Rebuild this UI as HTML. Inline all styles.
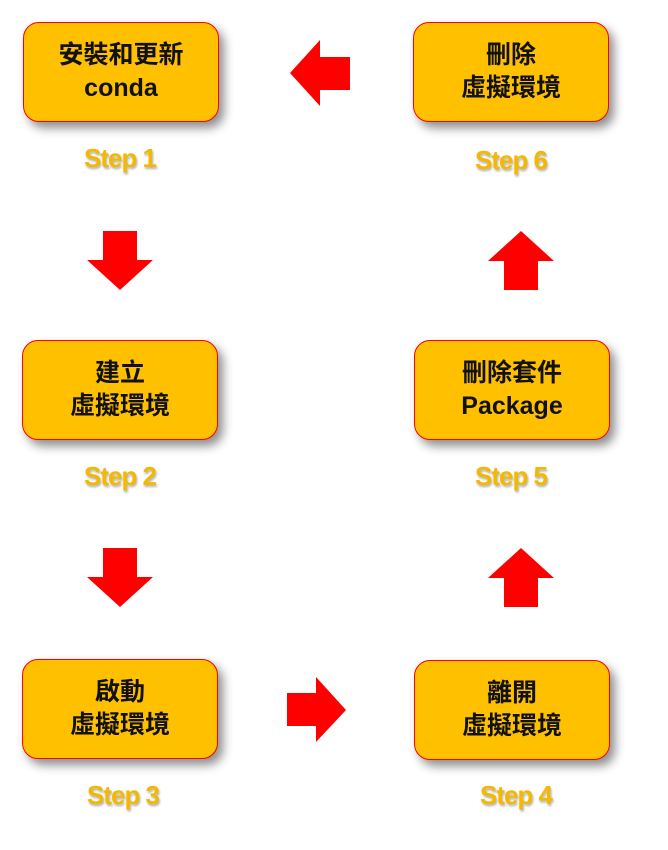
<!DOCTYPE html>
<html><head><meta charset="utf-8"><style>
body{margin:0;width:668px;height:850px;background:#fff;position:relative;overflow:hidden;font-family:"Liberation Sans","Noto Sans CJK TC",sans-serif}
.b{position:absolute;width:196px;height:100px;background:#ffc000;border:1.5px solid #f00;border-radius:16px;box-shadow:5px 6px 10px rgba(0,0,0,.45);display:flex;align-items:center;justify-content:center;text-align:center;font-size:25px;font-weight:bold;line-height:33px;color:#111;box-sizing:border-box}
.s{position:absolute;width:196px;text-align:center;font-size:26px;font-weight:bold;color:#f5b800;text-shadow:1px 2px 2px rgba(0,0,0,.3);letter-spacing:-1px}
svg{position:absolute;left:0;top:0}
</style></head><body>
<div class="b" style="left:23px;top:22px">安裝和更新<br>conda</div>
<div class="b" style="left:413px;top:22px">刪除<br>虛擬環境</div>
<div class="b" style="left:22px;top:340px">建立<br>虛擬環境</div>
<div class="b" style="left:414px;top:340px">刪除套件<br>Package</div>
<div class="b" style="left:22px;top:659px">啟動<br>虛擬環境</div>
<div class="b" style="left:414px;top:660px">離開<br>虛擬環境</div>
<div class="s" style="left:22px;top:143px">Step 1</div>
<div class="s" style="left:413px;top:145px">Step 6</div>
<div class="s" style="left:22px;top:461px">Step 2</div>
<div class="s" style="left:413px;top:461px">Step 5</div>
<div class="s" style="left:25px;top:780px">Step 3</div>
<div class="s" style="left:418px;top:780px">Step 4</div>
<svg width="668" height="850" fill="#f00">
<polygon points="350,57 320,57 320,40 290,73 320,106 320,90 350,90"/>
<polygon points="103,231 137,231 137,260 153,260 120,290 87,260 103,260"/>
<polygon points="103,548 137,548 137,577 153,577 120,607 87,577 103,577"/>
<polygon points="287,693 316,693 316,677 346,710 316,742 316,726 287,726"/>
<polygon points="504,290 538,290 538,261 554,261 521,231 488,261 504,261"/>
<polygon points="504,607 538,607 538,578 554,578 521,548 488,578 504,578"/>
</svg>
</body></html>
